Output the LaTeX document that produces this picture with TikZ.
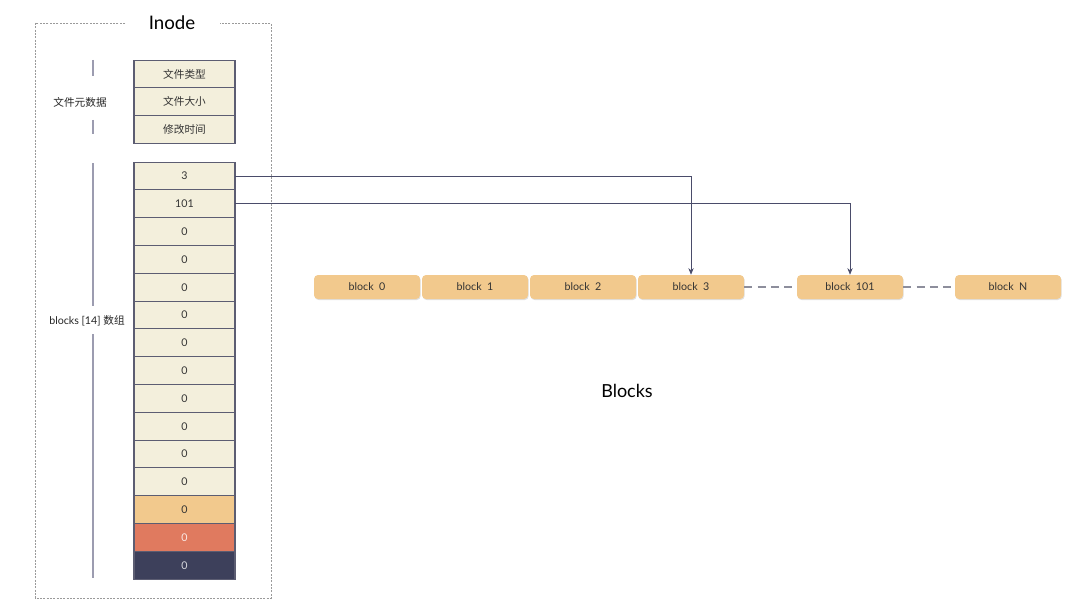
\documentclass[tikz,border=0pt]{standalone}
\usepackage{fontspec}
\setmainfont{Lato}
\newfontfamily\cjk{Noto Sans CJK SC}
\usetikzlibrary{shadows,arrows.meta}
\definecolor{cellfill}{HTML}{F3EFDC}
\definecolor{celldraw}{HTML}{5C5D72}
\definecolor{blockfill}{HTML}{F2C98D}
\definecolor{redfill}{HTML}{E07A5F}
\definecolor{navyfill}{HTML}{3D405B}
\definecolor{linec}{HTML}{4A4C6A}
\definecolor{framec}{HTML}{9A9A9A}
\definecolor{barc}{HTML}{9C9CB0}
\tikzset{
  cell/.style={draw=celldraw, line width=0.8pt, fill=cellfill, minimum width=75.75pt, minimum height=20.85pt, inner sep=0pt, outer sep=0pt, font=\fontsize{8}{9}\selectfont, text=black!80},
  blk/.style={fill=blockfill, rounded corners=3pt, minimum width=79.5pt, minimum height=18pt, inner sep=0pt, font=\fontsize{8}{9}\selectfont, text=black!80, drop shadow={shadow xshift=0.5pt, shadow yshift=-0.8pt, opacity=0.25}},
  conn/.style={draw=linec, line width=0.5pt, -{Stealth[length=5pt,width=4pt]}},
  dashc/.style={draw=celldraw!70, line width=0.8pt, dash pattern=on 6pt off 4pt},
  bar/.style={draw=barc, line width=1pt},
  lbl/.style={font=\fontsize{8}{9}\selectfont, text=black!85, inner sep=0pt}
}
\begin{document}
\begin{tikzpicture}[x=0.75pt, y=-0.75pt]
\useasboundingbox (0,0) rectangle (1080,613);
% frame
\draw[framec, line width=0.7pt, dash pattern=on 1.5pt off 1pt] (125,23) -- (35,23) -- (35,598) -- (271,598) -- (271,23) -- (220,23);
\node[font=\fontsize{14}{15}\selectfont, inner sep=0pt] (title) at (172,23) {Inode};
% metadata cells
\node[cell] (m1) at (184.5,74) {\cjk 文件类型};
\node[cell] (m2) at (184.5,101.8) {\cjk 文件大小};
\node[cell] (m3) at (184.5,129.6) {\cjk 修改时间};
% metadata bar
\node[lbl] (mlabel) at (80,102) {\cjk 文件元数据};
\coordinate (mb1) at (93,60); \coordinate (mb2) at (93,76);
\coordinate (mb3) at (93,120); \coordinate (mb4) at (93,134);
\draw[bar] (mb1) -- (mb2);
\draw[bar] (mb3) -- (mb4);
% block cells
\foreach \i/\t/\f/\c in {0/3/cellfill/black!80, 1/101/cellfill/black!80, 2/0/cellfill/black!80, 3/0/cellfill/black!80, 4/0/cellfill/black!80, 5/0/cellfill/black!80, 6/0/cellfill/black!80, 7/0/cellfill/black!80, 8/0/cellfill/black!80, 9/0/cellfill/black!80, 10/0/cellfill/black!80, 11/0/cellfill/black!80, 12/0/blockfill/black!80, 13/0/redfill/white!85!redfill, 14/0/navyfill/white!80!navyfill} {
  \node[cell, fill=\f, text=\c] (c\i) at (184.5,{176+27.8*\i}) {\t};
}
% blocks bar
\node[lbl] (blabel) at (87,321) {blocks [14] {\cjk 数组}};
\coordinate (bb1) at (93,163); \coordinate (bb2) at (93,306);
\coordinate (bb3) at (93,334); \coordinate (bb4) at (93,578);
\draw[bar] (bb1) -- (bb2);
\draw[bar] (bb3) -- (bb4);
% blocks row
\node[blk] (b0) at (367,287) {block\ \ 0};
\node[blk] (b1) at (475,287) {block\ \ 1};
\node[blk] (b2) at (583,287) {block\ \ 2};
\node[blk] (b3) at (691,287) {block\ \ 3};
\node[blk] (b101) at (850,287) {block\ \ 101};
\node[blk] (bN) at (1008,287) {block\ \ N};
\draw[dashc] (b3.east) -- (b101.west);
\draw[dashc] (b101.east) -- (bN.west);
% arrows
\draw[conn] (c0.east) -| (b3.north);
\draw[conn] (c1.east) -| (b101.north);
\node[font=\fontsize{13.5}{15}\selectfont, inner sep=0pt] (blocks) at (627,391) {Blocks};
\end{tikzpicture}
\end{document}
